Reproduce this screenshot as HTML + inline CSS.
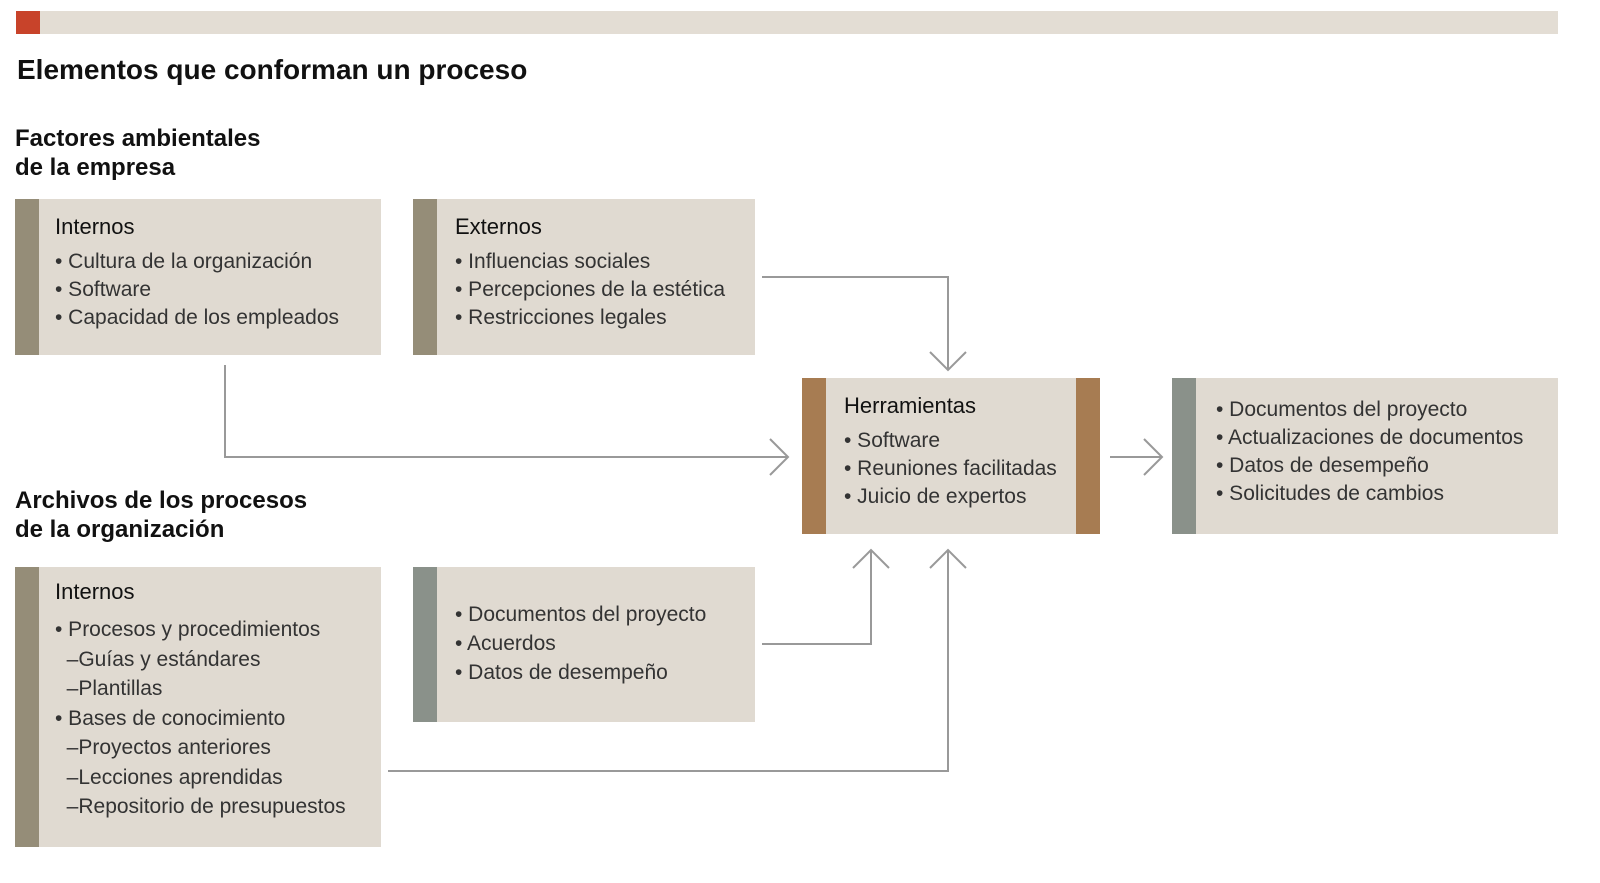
<!DOCTYPE html>
<html><head><meta charset="utf-8"><style>
body{margin:0;width:1600px;height:883px;background:#fff;position:relative;font-family:"Liberation Sans",sans-serif;color:#1a1a1a;overflow:hidden}
.a{position:absolute}
.box{position:absolute;background:#e0dad1}
.bar{position:absolute;top:0;bottom:0;width:24px}
.t{position:absolute;font-size:21px;line-height:28px;white-space:nowrap;color:#333}
.h{position:absolute;font-size:22px;line-height:28px;color:#111;white-space:nowrap}
h1,h2{margin:0;font-weight:bold;position:absolute;white-space:nowrap;color:#111}
</style></head><body>
<div class="a" style="left:16px;top:11px;width:1542px;height:23px;background:#e3ddd4"></div>
<div class="a" style="left:16px;top:11px;width:24px;height:23px;background:#c8432a"></div>
<h1 style="left:17px;top:54px;font-size:28px">Elementos que conforman un proceso</h1>
<h2 style="left:15px;top:124px;font-size:24px;line-height:29px">Factores ambientales<br>de la empresa</h2>
<h2 style="left:15px;top:486px;font-size:24px;line-height:29px">Archivos de los procesos<br>de la organización</h2>

<div class="box" style="left:15px;top:199px;width:366px;height:156px"><div class="bar" style="left:0;background:#958d78"></div>
<div class="h" style="left:40px;top:14px">Internos</div>
<div class="t" style="left:40px;top:49px">• Cultura de la organización<br>• Software<br>• Capacidad de los empleados</div></div>

<div class="box" style="left:413px;top:199px;width:342px;height:156px"><div class="bar" style="left:0;background:#958d78"></div>
<div class="h" style="left:42px;top:14px">Externos</div>
<div class="t" style="left:42px;top:49px">• Influencias sociales<br>• Percepciones de la estética<br>• Restricciones legales</div></div>

<div class="box" style="left:802px;top:378px;width:298px;height:156px"><div class="bar" style="left:0;background:#a77c52"></div><div class="bar" style="right:0;background:#a77c52"></div>
<div class="h" style="left:42px;top:14px">Herramientas</div>
<div class="t" style="left:42px;top:49px">• Software<br>• Reuniones facilitadas<br>• Juicio de expertos</div></div>

<div class="box" style="left:1172px;top:378px;width:386px;height:156px"><div class="bar" style="left:0;background:#8a918a"></div>
<div class="t" style="left:44px;top:18px">• Documentos del proyecto<br>• Actualizaciones de documentos<br>• Datos de desempeño<br>• Solicitudes de cambios</div></div>

<div class="box" style="left:15px;top:567px;width:366px;height:280px"><div class="bar" style="left:0;background:#958d78"></div>
<div class="h" style="left:40px;top:11px">Internos</div>
<div class="t" style="left:40px;top:48px;line-height:29.5px">• Procesos y procedimientos<br>&nbsp;&nbsp;–Guías y estándares<br>&nbsp;&nbsp;–Plantillas<br>• Bases de conocimiento<br>&nbsp;&nbsp;–Proyectos anteriores<br>&nbsp;&nbsp;–Lecciones aprendidas<br>&nbsp;&nbsp;–Repositorio de presupuestos</div></div>

<div class="box" style="left:413px;top:567px;width:342px;height:155px"><div class="bar" style="left:0;background:#8a918a"></div>
<div class="t" style="left:42px;top:33px;line-height:29px">• Documentos del proyecto<br>• Acuerdos<br>• Datos de desempeño</div></div>

<svg class="a" style="left:0;top:0" width="1600" height="883" fill="none" stroke="#999" stroke-width="2">
<polyline points="762,277 948,277 948,370"/><polyline points="930,352 948,370 966,352"/>
<polyline points="225,365 225,457 788,457"/><polyline points="770,439 788,457 770,475"/>
<polyline points="1110,457 1162,457"/><polyline points="1144,439 1162,457 1144,475"/>
<polyline points="762,644 871,644 871,550"/><polyline points="853,568 871,550 889,568"/>
<polyline points="388,771 948,771 948,550"/><polyline points="930,568 948,550 966,568"/>
</svg>
</body></html>
